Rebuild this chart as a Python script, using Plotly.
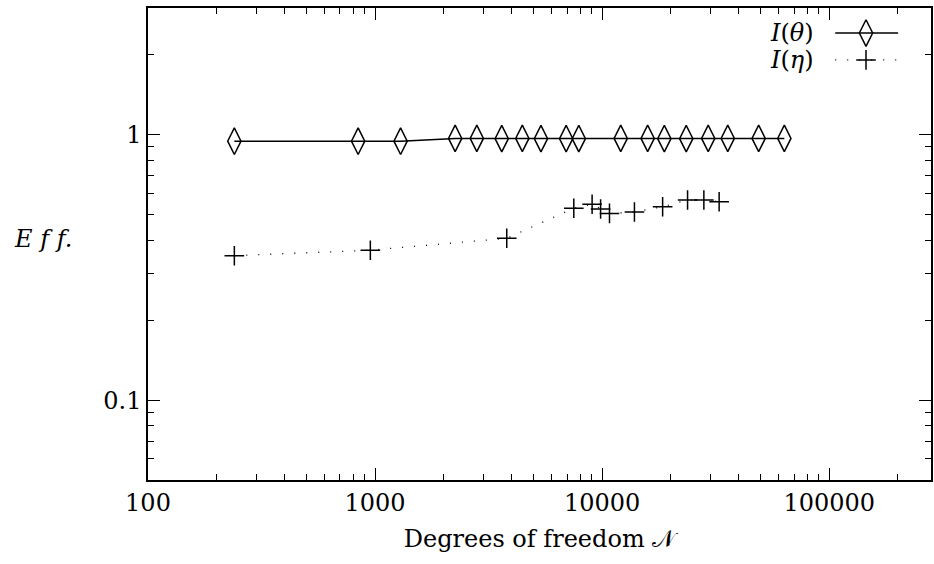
import plotly.graph_objects as go

# ---- data ----
n_theta = [240, 842, 1295, 2252, 2805, 3612, 4450, 5375, 6940, 7890,
           12070, 15860, 18780, 23450, 29300, 35730, 48870, 63400]
eff_theta = [0.945, 0.945, 0.945, 0.968, 0.968, 0.966, 0.968, 0.966, 0.966, 0.966,
             0.968, 0.968, 0.966, 0.966, 0.968, 0.968, 0.968, 0.968]

n_eta = [240, 953, 3800, 7500, 9030, 9840, 10770, 13870, 18460, 23770, 28040, 32740]
eff_eta = [0.350, 0.367, 0.407, 0.528, 0.547, 0.525, 0.505, 0.511, 0.535, 0.567, 0.567, 0.559]

x_tickvals = [100, 1000, 10000, 100000]
x_ticktext = ["100", "1000", "10000", "100000"]
y_tickvals = [0.1, 1]
y_ticktext = ["0.1", "1"]

legend_labels = ["<i>I</i>(<i>θ</i>)", "<i>I</i>(<i>η</i>)"]

FONT = "DejaVu Serif, serif"
FS = 24

x_minor = [m * 10 ** e for e in range(2, 6) for m in range(2, 10)]
y_minor = [m * 10 ** e for e in range(-2, 1) for m in range(2, 10)]

fig = go.Figure()

fig.add_trace(go.Scatter(
    x=n_theta, y=eff_theta, mode="lines+markers",
    line=dict(color="black", width=1.5),
    marker=dict(symbol="diamond-tall-open", size=19, color="black",
                line=dict(color="black", width=1.5)),
    showlegend=False,
))
fig.add_trace(go.Scatter(
    x=n_eta, y=eff_eta, mode="lines+markers",
    line=dict(color="black", width=1.3, dash="1px,11px"),
    marker=dict(symbol="cross-thin-open", size=14, color="black",
                line=dict(color="black", width=1.5)),
    showlegend=False,
))

# ---- manual gnuplot-style key (text left, sample right) ----
key_y = [0.947, 0.890]
fig.add_trace(go.Scatter(
    x=[0.8777, 0.958], y=[key_y[0]] * 2, mode="lines",
    line=dict(color="black", width=1.5), xaxis="x2", yaxis="y2",
    showlegend=False, hoverinfo="skip"))
fig.add_trace(go.Scatter(
    x=[0.917], y=[key_y[0]], mode="markers",
    marker=dict(symbol="diamond-tall-open", size=19, color="black",
                line=dict(color="black", width=1.5)),
    xaxis="x2", yaxis="y2", showlegend=False, hoverinfo="skip"))
fig.add_trace(go.Scatter(
    x=[0.8777, 0.958], y=[key_y[1]] * 2, mode="lines",
    line=dict(color="black", width=1.3, dash="1px,11px"),
    xaxis="x2", yaxis="y2", showlegend=False, hoverinfo="skip"))
fig.add_trace(go.Scatter(
    x=[0.917], y=[key_y[1]], mode="markers",
    marker=dict(symbol="cross-thin-open", size=14, color="black",
                line=dict(color="black", width=1.5)),
    xaxis="x2", yaxis="y2", showlegend=False, hoverinfo="skip"))

annotations = []
for lab, yy in zip(legend_labels, key_y):
    annotations.append(dict(
        text=lab, xref="paper", yref="paper", x=0.8535, y=yy,
        xanchor="right", yanchor="middle", showarrow=False,
        font=dict(family=FONT, size=FS, color="black")))
annotations.append(dict(
    text="<i>E f f.</i>", xref="paper", yref="paper", x=0, y=0.51,
    xshift=-136, xanchor="left", yanchor="middle", showarrow=False,
    font=dict(family=FONT, size=FS, color="black")))

axis_common = dict(
    showline=True, linecolor="black", linewidth=1.5, mirror="allticks",
    ticks="inside", ticklen=12, tickwidth=1, tickcolor="black",
    showgrid=False, zeroline=False,
    tickfont=dict(family=FONT, size=FS, color="black"),
)

fig.update_layout(
    width=934, height=564,
    margin=dict(l=148, r=1, t=8, b=84),
    paper_bgcolor="white", plot_bgcolor="white",
    font=dict(family=FONT, size=FS, color="black"),
    xaxis=dict(
        type="log", range=[2, 5.448],
        tickvals=x_tickvals, ticktext=x_ticktext,
        minor=dict(tickvals=x_minor, ticks="inside", ticklen=6,
                   tickcolor="black", tickwidth=1),
        title=dict(text="Degrees of freedom 𝒩", standoff=15,
                   font=dict(family=FONT, size=FS, color="black")),
        **axis_common),
    yaxis=dict(
        type="log", range=[-1.301, 0.4771],
        tickvals=y_tickvals, ticktext=y_ticktext,
        minor=dict(tickvals=y_minor, ticks="inside", ticklen=6,
                   tickcolor="black", tickwidth=1),
        **axis_common),
    xaxis2=dict(range=[0, 1], overlaying="x", visible=False, fixedrange=True),
    yaxis2=dict(range=[0, 1], overlaying="y", visible=False, fixedrange=True),
    annotations=annotations,
)

fig.write_html(
    "out.html",
    config={"displayModeBar": False},
    post_script="document.body.style.margin='0';document.body.style.overflow='hidden';",
)
